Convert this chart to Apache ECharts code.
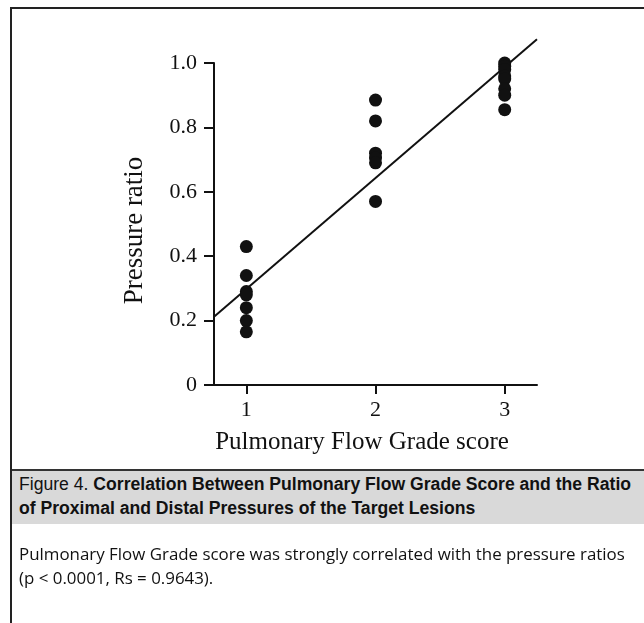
<!DOCTYPE html>
<html>
<head>
<meta charset="utf-8">
<script src="https://cdn.jsdelivr.net/npm/echarts@6/dist/echarts.min.js"></script>
<style>
  html, body { margin: 0; padding: 0; background: #fff; }
  .page { position: relative; width: 644px; height: 623px; overflow: hidden; }
  .frame {
    position: absolute; left: 10px; top: 7px; width: 640px; height: 620px;
    border-top: 2px solid #222; border-left: 2px solid #222;
  }
  #chart { position: absolute; left: 0; top: 0; width: 644px; height: 623px; }
  .band {
    position: absolute; left: 12px; top: 469px; width: 632px; height: 53px;
    border-top: 2px solid #333; background: #d9d9d9;
  }
  .caption {
    position: absolute; left: 19px; top: 472px; width: 625px;
    font-family: 'Liberation Sans', sans-serif;
    font-weight: bold; font-size: 17.6px; line-height: 24px; color: #111;
    white-space: nowrap;
  }
  .caption .fig { font-weight: normal; }
  .desc {
    position: absolute; left: 19px; top: 542px; width: 625px;
    font-family: 'Open Sans', 'Noto Sans', sans-serif;
    font-size: 16.9px; line-height: 24px; color: #111;
    white-space: nowrap;
  }
</style>
</head>
<body>
<div class="page">
  <div class="frame"></div>
  <div id="chart"></div>
  <div class="band"></div>
  <div class="caption"><span class="fig">Figure 4.</span> Correlation Between Pulmonary Flow Grade Score and the Ratio<br>of Proximal and Distal Pressures of the Target Lesions</div>
  <div class="desc">Pulmonary Flow Grade score was strongly correlated with the pressure ratios<br>(p &lt; 0.0001, Rs = 0.9643).</div>
</div>
<script>
// pressure ratios per flow grade
const grade1 = [0.43, 0.34, 0.29, 0.28, 0.24, 0.2, 0.165]
const grade2 = [0.885, 0.82, 0.72, 0.705, 0.69, 0.57]
const grade3 = [1.0, 0.99, 0.98, 0.96, 0.95, 0.92, 0.9, 0.855]
const xTicks = [1, 2, 3]
const yTicks = [0, 0.2, 0.4, 0.6, 0.8, 1.0]
// regression line end points [grade, ratio]
const fitLine = [[0.75, 0.212], [3.25, 1.074]]

const points = []
grade1.forEach(v => points.push([1, v]))
grade2.forEach(v => points.push([2, v]))
grade3.forEach(v => points.push([3, v]))

const serif = "'Liberation Serif', 'DejaVu Serif', serif"
const chart = echarts.init(document.getElementById('chart'))

chart.setOption({
  animation: false,
  grid: { left: 205, right: 107, top: 63, bottom: 238, containLabel: false },
  xAxis: {
    type: 'value',
    min: 0.68,
    max: 3.25,
    name: 'Pulmonary Flow Grade score',
    nameLocation: 'middle',
    nameGap: 45,
    nameTextStyle: { fontFamily: serif, fontSize: 25, color: '#111', padding: [0, 18, 0, 0] },
    splitLine: { show: false },
    axisLine: { lineStyle: { color: '#111', width: 2 } },
    axisTick: { customValues: xTicks, length: 9, lineStyle: { color: '#111', width: 2 } },
    axisLabel: {
      customValues: xTicks,
      margin: 14,
      fontFamily: serif, fontSize: 22, color: '#111'
    }
  },
  yAxis: {
    type: 'value',
    min: 0,
    max: 1,
    interval: 0.2,
    offset: -9,
    name: 'Pressure ratio',
    nameLocation: 'middle',
    nameGap: 66,
    nameTextStyle: { fontFamily: serif, fontSize: 27, color: '#111', padding: [0, 13, 0, 0] },
    splitLine: { show: false },
    axisLine: { lineStyle: { color: '#111', width: 2 } },
    axisTick: { customValues: yTicks, length: 10, lineStyle: { color: '#111', width: 2 } },
    axisLabel: {
      customValues: yTicks,
      margin: 17,
      fontFamily: serif, fontSize: 22, color: '#111',
      formatter: v => (v === 0 ? '0' : v.toFixed(1))
    }
  },
  series: [
    {
      type: 'line',
      data: fitLine,
      clip: false,
      symbol: 'none',
      lineStyle: { color: '#111', width: 2 },
      z: 1
    },
    {
      type: 'scatter',
      data: points,
      symbolSize: 13,
      itemStyle: { color: '#111', opacity: 1 },
      z: 2
    }
  ]
})
</script>
</body>
</html>
